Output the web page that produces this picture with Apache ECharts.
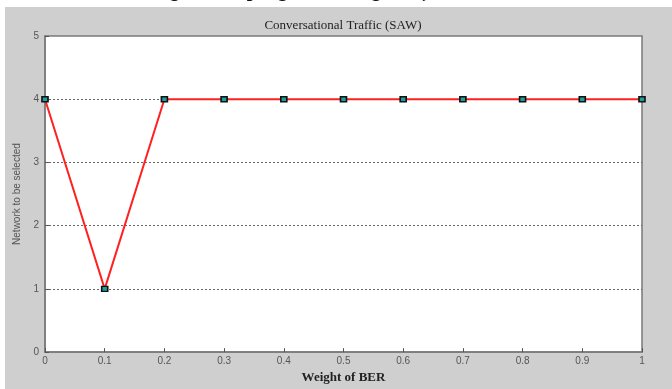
<!DOCTYPE html>
<html><head><meta charset="utf-8">
<script src="https://cdn.jsdelivr.net/npm/echarts@6/dist/echarts.min.js"></script>
<style>html,body{margin:0;padding:0;background:#fff}#c{width:672px;height:389px}</style>
</head><body><div id="c"></div>
<script>
const categories = [0, 0.1, 0.2, 0.3, 0.4, 0.5, 0.6, 0.7, 0.8, 0.9, 1];
const networkSelected = [4, 1, 4, 4, 4, 4, 4, 4, 4, 4, 4];
const xTickLabels = ['0', '0.1', '0.2', '0.3', '0.4', '0.5', '0.6', '0.7', '0.8', '0.9', '1'];
const yTickLabels = ['0', '1', '2', '3', '4', '5'];
const titleText = 'Conversational Traffic (SAW)';
const xName = 'Weight of BER';
const yName = 'Network to be selected';
const captionText = 'Fig. 5 varying the weight of BER';

const chart = echarts.init(document.getElementById('c'), null, {renderer: 'canvas'});
const boxColor = '#7a7a7a';
const labelStyle = {color: '#555', fontFamily: 'Arial, Liberation Sans, sans-serif', fontSize: 10};
chart.setOption({
  animation: false,
  backgroundColor: '#ffffff',
  graphic: [
    {type: 'text', left: 150, top: -18, z: -3, silent: true,
     style: {text: captionText, font: 'italic 20px "DejaVu Serif", serif', fill: '#111'}},
    {type: 'rect', shape: {x: 5, y: 7, width: 667, height: 382}, style: {fill: '#cfcfcf'}, z: -1, silent: true},
    {type: 'text', x: 343, y: 26, z: 10,
     style: {text: titleText, font: '13px "Liberation Serif", "Times New Roman", serif', fill: '#222', align: 'center', verticalAlign: 'middle'}}
  ],
  grid: {left: 45, right: 30, top: 36, bottom: 30, show: true, backgroundColor: '#ffffff', borderWidth: 1.5, borderColor: boxColor},
  xAxis: {
    type: 'value', min: 0, max: 1, interval: 0.1,
    name: xName, nameLocation: 'middle', nameGap: 17,
    nameTextStyle: {fontFamily: '"Liberation Serif", serif', fontWeight: 'bold', fontSize: 13, color: '#222'},
    axisLine: {show: true, lineStyle: {color: boxColor, width: 1.5}},
    axisTick: {show: true, inside: true, length: 4, lineStyle: {color: '#555'}},
    axisLabel: Object.assign({margin: 4, formatter: (v) => xTickLabels[Math.round(v * 10)]}, labelStyle),
    splitLine: {show: false}
  },
  yAxis: {
    type: 'value', min: 0, max: 5, interval: 1,
    name: yName, nameLocation: 'middle', nameGap: 20, nameRotate: 90,
    nameTextStyle: {fontFamily: 'Arial, "Liberation Sans", sans-serif', fontSize: 10, color: '#555'},
    axisLine: {show: true, lineStyle: {color: boxColor, width: 1.5}},
    axisTick: {show: true, inside: true, length: 4, lineStyle: {color: '#555'}},
    axisLabel: Object.assign({margin: 6, formatter: (v) => yTickLabels[Math.round(v)]}, labelStyle),
    splitLine: {show: true, showMinLine: false, showMaxLine: false, lineStyle: {color: '#666', type: [2, 2], width: 1}}
  },
  series: [{
    type: 'line',
    data: categories.map((c, i) => [c, networkSelected[i]]),
    lineStyle: {color: '#ff2020', width: 2},
    symbol: 'rect', symbolSize: [6, 5],
    itemStyle: {color: '#1aa0a0', borderColor: '#111', borderWidth: 1.5},
    z: 5
  }]
});
</script></body></html>
